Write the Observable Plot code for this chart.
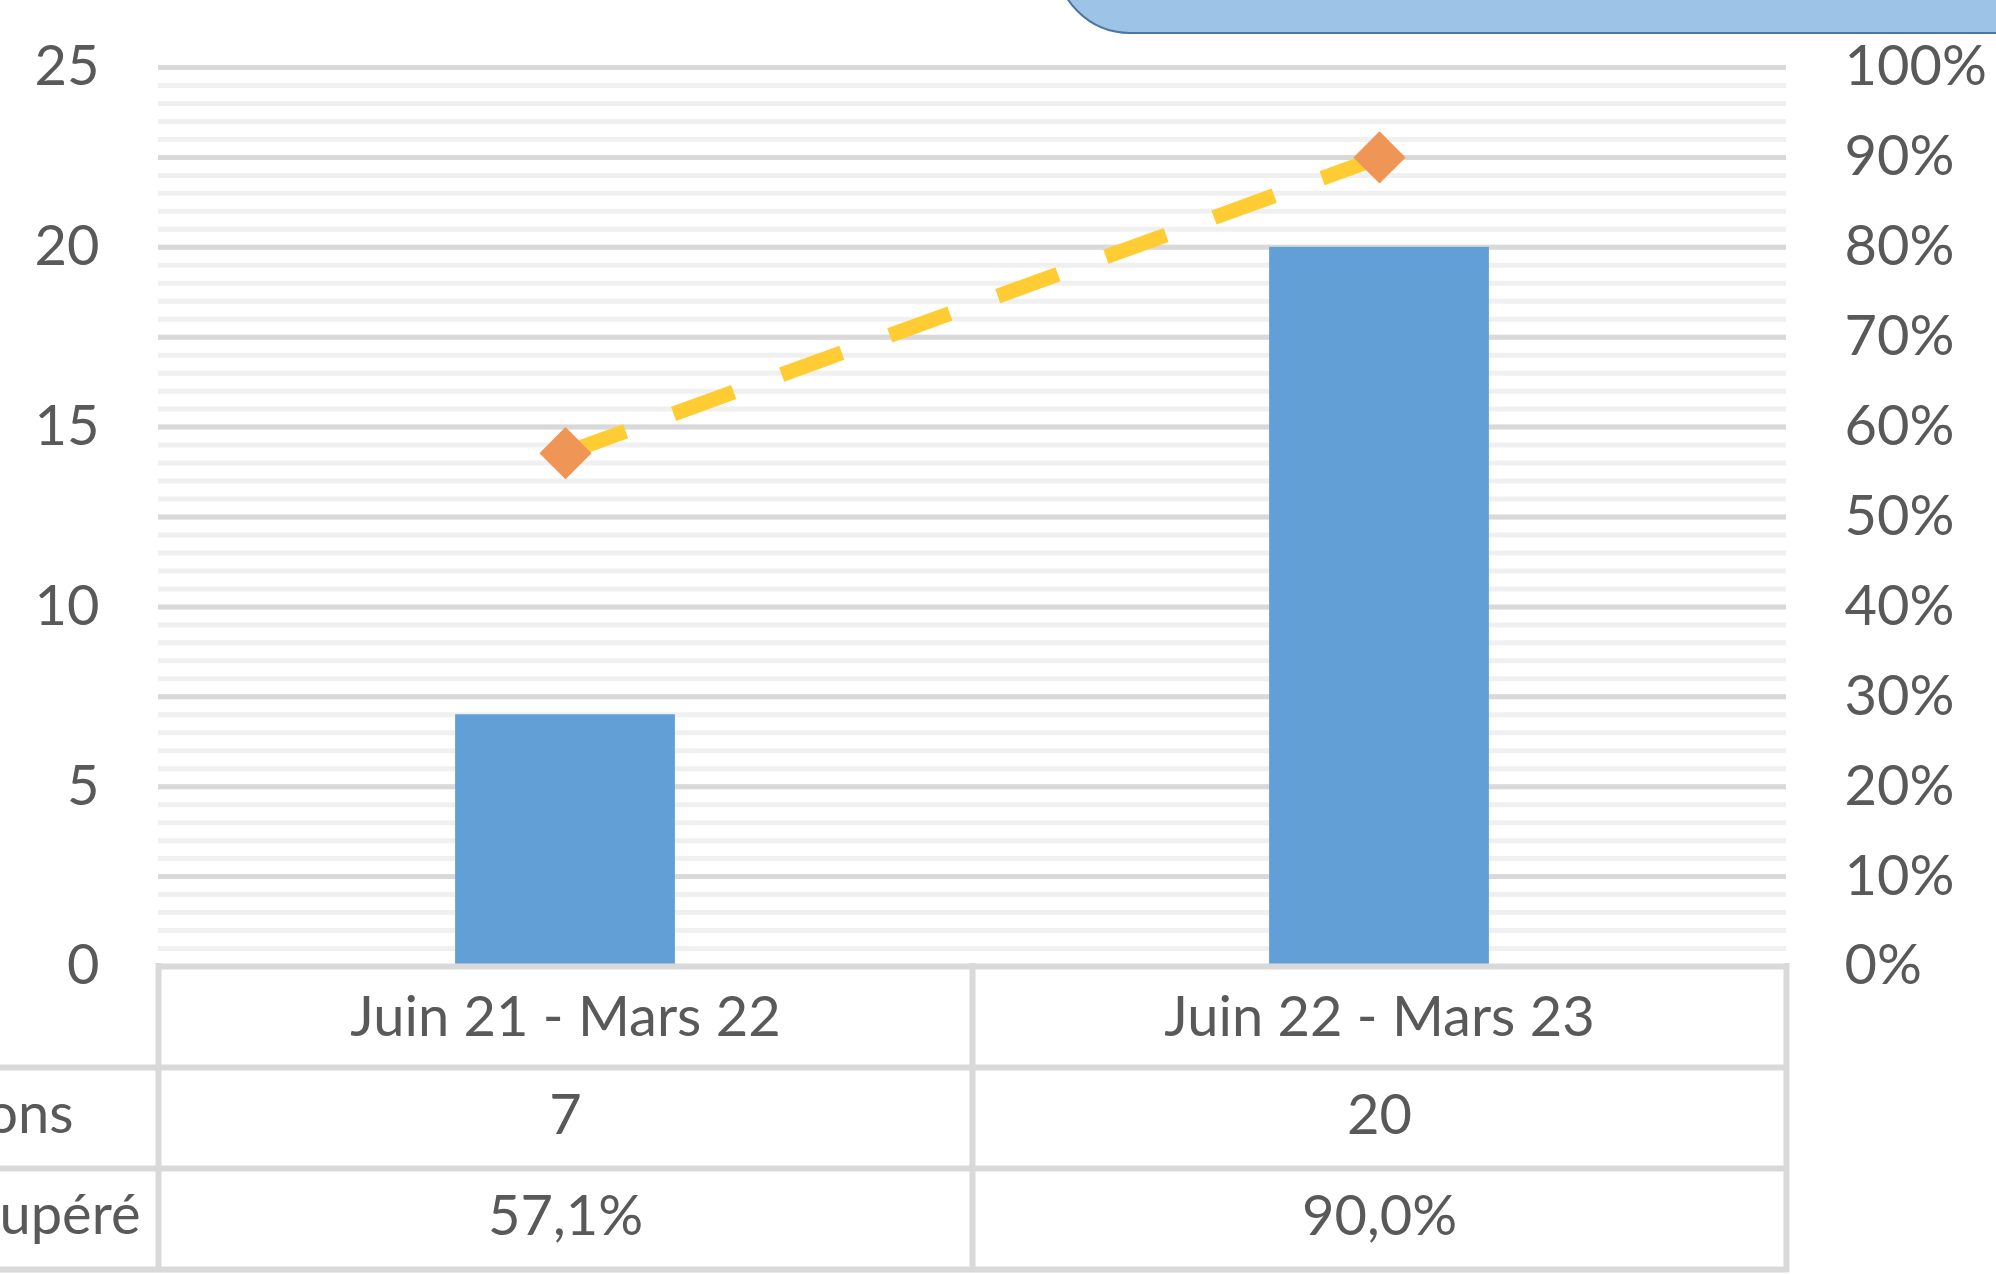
<!DOCTYPE html>
<html>
<head>
<meta charset="utf-8">
<script src="https://cdn.jsdelivr.net/npm/d3@7"></script>
<script src="https://cdn.jsdelivr.net/npm/@observablehq/plot@0.6"></script>
<style>
  html, body { margin: 0; padding: 0; background: #ffffff; }
  body { width: 1996px; height: 1274px; position: relative; overflow: hidden; }
  #chart { position: absolute; left: 0; top: 0; }
  #callout {
    position: absolute; left: 1055px; top: -200px; width: 1100px; height: 230px;
    background: #9DC3E6; border: 2px solid #4A76A2; border-radius: 75px;
  }
</style>
</head>
<body>
<div id="chart"></div>
<div id="callout"></div>
<script>
// ---- data ----
const categories = ["Juin 21 - Mars 22", "Juin 22 - Mars 23"];
const counts = [7, 20];          // bars (left axis)
const rates = [57.1, 90.0];      // line (right axis, %)
const leftTicks = [0, 5, 10, 15, 20, 25];
const rightTicks = [0, 10, 20, 30, 40, 50, 60, 70, 80, 90, 100];
const rowLabels = ["ons", "upéré"]; // visible (cut-off) row headers of the data table

// ---- derived ----
const Y_MAX = 25;
const rateToY = r => r / 100 * Y_MAX;
const data = categories.map((c, i) => ({ i, c, count: counts[i], rate: rates[i] }));
const majorGrid = rightTicks.map(rateToY);
const minorGrid = d3.range(0, Y_MAX + 0.001, 0.5);
const fmtPct = v => v.toFixed(1).replace(".", ",") + "%";

const W = 1996, H = 1274;
const mL = 158, mR = 210, mT = 67, mB = 308;
const rowH = 101;
const halfBar = 0.135;
const textColor = "#595959";
const tableStroke = "#d9d9d9";

const plot = Plot.plot({
  width: W, height: H,
  marginLeft: mL, marginRight: mR, marginTop: mT, marginBottom: mB,
  style: { fontFamily: "Lato, 'Open Sans', sans-serif", fontSize: "56px", color: textColor, background: "white", overflow: "visible" },
  x: { domain: [-0.5, 1.5] },
  y: { domain: [0, Y_MAX] },
  marks: [
    Plot.ruleY(minorGrid, { stroke: "#f0f0f0", strokeWidth: 5 }),
    Plot.ruleY(majorGrid, { stroke: "#d9d9d9", strokeWidth: 5 }),
    Plot.rectY(data, { x1: d => d.i - halfBar, x2: d => d.i + halfBar, y1: 0, y2: "count", fill: "#619FD6" }),
    // data table: horizontal lines
    Plot.ruleY([0], { stroke: tableStroke, strokeWidth: 6, insetRight: -3 }),
    Plot.ruleY([0], { dy: rowH, stroke: tableStroke, strokeWidth: 6, insetLeft: -mL, insetRight: -3 }),
    Plot.ruleY([0], { dy: 2 * rowH, stroke: tableStroke, strokeWidth: 6, insetLeft: -mL, insetRight: -3 }),
    Plot.ruleY([0], { dy: 3 * rowH, stroke: tableStroke, strokeWidth: 6, insetLeft: -mL, insetRight: -3 }),
    // data table: vertical lines at column boundaries
    Plot.ruleX([-0.5, 0.5, 1.5], { y1: 0, y2: 0, insetTop: -3, insetBottom: -(3 * rowH + 3), stroke: tableStroke, strokeWidth: 6 }),
    // line (right axis)
    Plot.line(data, { x: "i", y: d => rateToY(d.rate), stroke: "#FFCD33", strokeWidth: 15, strokeDasharray: "64,51", strokeLinecap: "butt" }),
    Plot.dot(data, { x: "i", y: d => rateToY(d.rate), symbol: "diamond2", r: 23.5, fill: "#EF9556", stroke: "none" }),
    // axes
    Plot.axisY({ ticks: leftTicks, anchor: "left", tickSize: 0, tickPadding: 59, label: null, fontSize: 56 }),
    Plot.axisY({ ticks: majorGrid, anchor: "right", tickSize: 0, tickPadding: 58, label: null, fontSize: 56,
      tickFormat: d => Math.round(d / Y_MAX * 100) + "%" }),
    Plot.axisX({ ticks: [0, 1], tickFormat: i => categories[i], tickSize: 0, tickPadding: 30, label: null, fontSize: 56 }),
    // data table values
    Plot.text(data, { x: "i", text: d => String(d.count), frameAnchor: "bottom", dy: 1.5 * rowH - 2, lineAnchor: "middle", fontSize: 56, fill: textColor }),
    Plot.text(data, { x: "i", text: d => fmtPct(d.rate), frameAnchor: "bottom", dy: 2.5 * rowH - 2, lineAnchor: "middle", fontSize: 56, fill: textColor }),
    // row headers (cut off at left edge, as in the reference)
    Plot.text([rowLabels[0]], { frameAnchor: "bottom-left", dx: 73 - mL, dy: 1.5 * rowH - 3, textAnchor: "end", lineAnchor: "middle", fontSize: 56, fill: textColor }),
    Plot.text([rowLabels[1]], { frameAnchor: "bottom-left", dx: 140 - mL, dy: 2.5 * rowH - 3, textAnchor: "end", lineAnchor: "middle", fontSize: 56, fill: textColor })
  ]
});
document.getElementById("chart").appendChild(plot);
</script>
</body>
</html>
